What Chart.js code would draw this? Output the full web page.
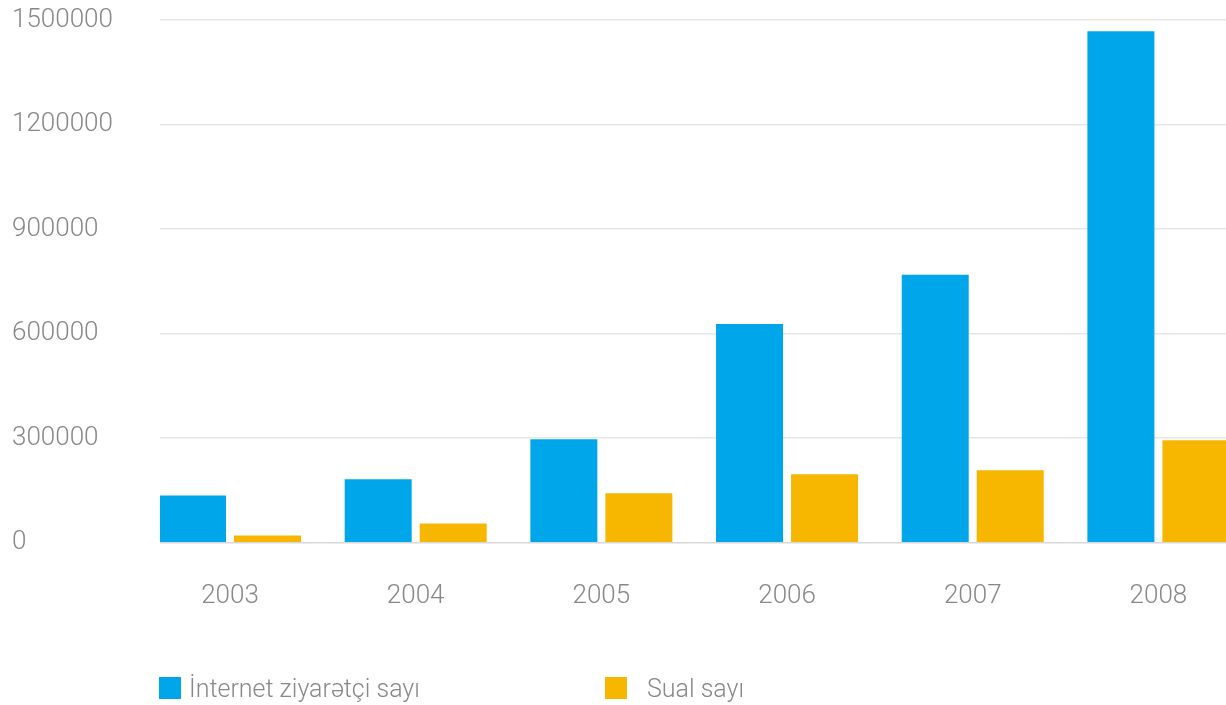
<!DOCTYPE html>
<html>
<head>
<meta charset="utf-8">
<script src="https://cdn.jsdelivr.net/npm/chart.js@4.4.1/dist/chart.umd.min.js"></script>
<style>
  html, body { margin: 0; padding: 0; background: #fff; overflow: hidden; }
  #wrap { position: relative; width: 1226px; height: 705px; }
  canvas { display: block; }
  #legend { position: absolute; left: 0; top: 0; width: 1226px; height: 705px; pointer-events: none;
            font-family: Roboto, "Liberation Sans", sans-serif; font-weight: 300; font-size: 25px; color: #888; }
  .item { position: absolute; top: 675px; display: flex; align-items: center; height: 26px; }
  .box { width: 22px; height: 22px; }
</style>
</head>
<body>
<div id="wrap">
  <canvas id="c" width="1226" height="705"></canvas>
  <div id="legend"></div>
</div>
<script>
const years = [2003, 2004, 2005, 2006, 2007, 2008];
const visitors = [136000, 182000, 297000, 628000, 769000, 1468000];
const questions = [21000, 55500, 142000, 196500, 208000, 294000];
const seriesNames = ["İnternet ziyarətçi sayı", "Sual sayı"];
const seriesColors = ["#00a6ea", "#f7b700"];
const yTicks = [0, 300000, 600000, 900000, 1200000, 1500000];

const toPoints = vals => vals.map((v, i) => ({ x: years[i], y: v }));
const tickFont = { family: "Roboto, 'Liberation Sans', sans-serif", size: 26, weight: 300 };

const chart = new Chart(document.getElementById('c'), {
  type: 'bar',
  data: {
    datasets: [
      { label: seriesNames[0], data: toPoints(visitors), backgroundColor: seriesColors[0] },
      { label: seriesNames[1], data: toPoints(questions), backgroundColor: seriesColors[1] }
    ]
  },
  options: {
    responsive: false,
    animation: false,
    layout: { padding: { left: 12, right: 0, top: 20, bottom: 55 } },
    datasets: { bar: { categoryPercentage: 0.808, barPercentage: 0.893 } },
    plugins: { legend: { display: false }, tooltip: { enabled: false } },
    scales: {
      x: {
        type: 'linear',
        offset: false,
        min: 2002.623,
        max: 2008.364,
        grid: { display: false, offset: false, drawTicks: false, tickLength: 0 },
        border: { display: false },
        ticks: {
          stepSize: 1,
          includeBounds: false,
          padding: 38,
          color: '#888',
          font: tickFont,
          maxRotation: 0,
          autoSkip: false,
          callback: v => String(v)
        }
      },
      y: {
        min: yTicks[0],
        max: yTicks[yTicks.length - 1],
        afterFit: s => { s.width = 148; },
        afterBuildTicks: s => { s.ticks = yTicks.map(v => ({ value: v })); },
        grid: {
          color: ctx => ctx.tick && ctx.tick.value === 0 ? '#d8d8d8' : '#e6e6e6',
          lineWidth: 1.5,
          drawTicks: false
        },
        border: { display: false },
        ticks: {
          crossAlign: 'far',
          padding: 0,
          color: '#888',
          font: tickFont,
          callback: v => String(v)
        }
      }
    }
  }
});

// HTML legend built from the datasets
const legendEl = document.getElementById('legend');
const legendLeft = [159, 605];
const legendGap = [8, 20];
chart.data.datasets.forEach((ds, i) => {
  const item = document.createElement('div');
  item.className = 'item';
  item.style.left = legendLeft[i] + 'px';
  const box = document.createElement('span');
  box.className = 'box';
  box.style.background = ds.backgroundColor;
  box.style.marginRight = legendGap[i] + 'px';
  const txt = document.createElement('span');
  txt.textContent = ds.label;
  item.appendChild(box);
  item.appendChild(txt);
  legendEl.appendChild(item);
});
</script>
</body>
</html>
